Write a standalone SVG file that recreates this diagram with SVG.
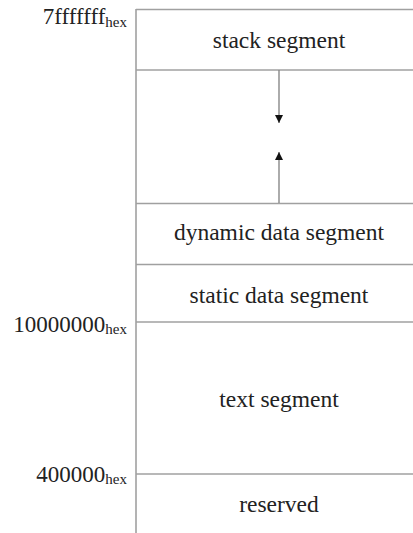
<svg xmlns="http://www.w3.org/2000/svg" width="413" height="533" viewBox="0 0 413 533">
<style>
.ln{stroke:#a0a0a0;stroke-width:1.6;fill:none}
.ar{stroke:#888;stroke-width:1.4;fill:none}
</style>
<defs>
<marker id="ah" viewBox="0 0 8 8" refX="8" refY="4" markerWidth="8" markerHeight="8" markerUnits="userSpaceOnUse" orient="auto">
<path d="M0,0 L8,4 L0,8 Z" fill="#111"/>
</marker>
</defs>
<rect width="413" height="533" fill="#fff"/>
<g id="frame">
<line class="ln" x1="136" y1="9" x2="136" y2="533"/>
<line class="ln" x1="136" y1="9.5" x2="413" y2="9.5"/>
</g>
<g font-family="Liberation Serif" font-size="23.5" fill="#222" text-anchor="middle">
<g id="stack"><line class="ln" x1="136" y1="70" x2="413" y2="70"/><text x="279" y="48">stack segment</text></g>
<g id="dynamic"><line class="ln" x1="136" y1="203.5" x2="413" y2="203.5"/><text x="279" y="240">dynamic data segment</text></g>
<g id="static"><line class="ln" x1="136" y1="264.5" x2="413" y2="264.5"/><text x="279" y="303">static data segment</text></g>
<g id="textseg"><line class="ln" x1="136" y1="322" x2="413" y2="322"/><text x="279" y="407">text segment</text></g>
<g id="reserved"><line class="ln" x1="136" y1="474" x2="413" y2="474"/><text x="279" y="512">reserved</text></g>
</g>
<g id="labels" font-family="Liberation Serif" font-size="23" fill="#222" text-anchor="end">
<text x="127" y="23.5">7fffffff<tspan font-size="15" dy="3">hex</tspan></text>
<text x="127" y="331.5">10000000<tspan font-size="15" dy="2">hex</tspan></text>
<text x="127" y="482">400000<tspan font-size="15" dy="2">hex</tspan></text>
</g>
<g id="connectors">
<line class="ar" x1="279" y1="70" x2="279" y2="123" marker-end="url(#ah)"/>
<line class="ar" x1="279" y1="203" x2="279" y2="152" marker-end="url(#ah)"/>
</g>
</svg>
